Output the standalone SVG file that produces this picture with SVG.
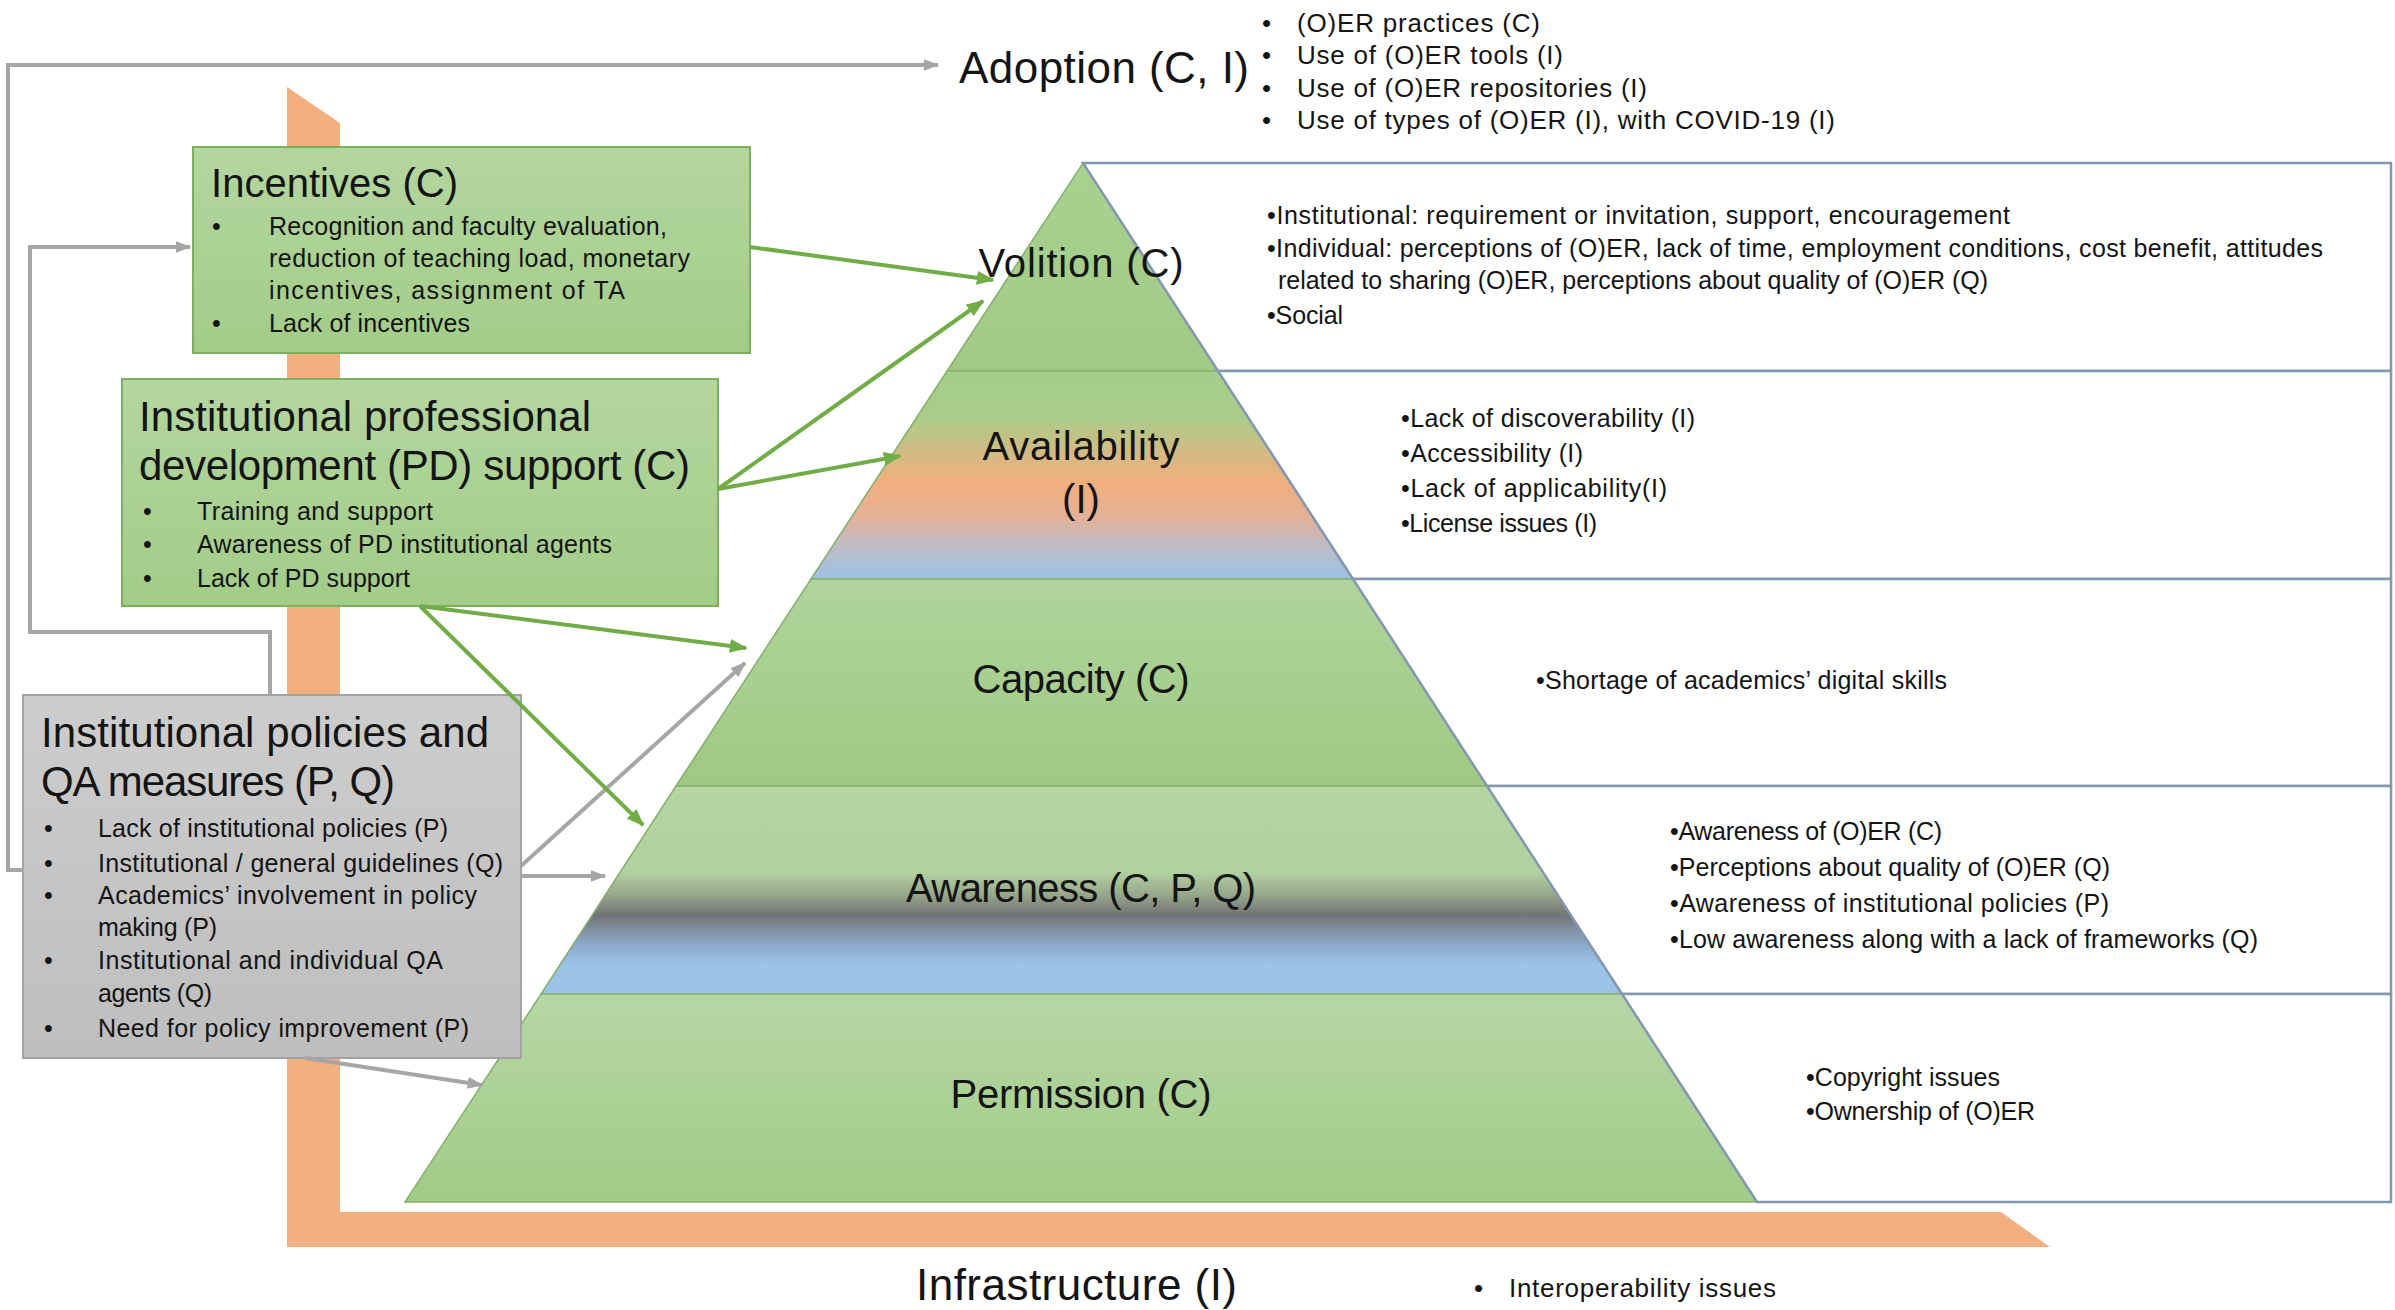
<svg xmlns="http://www.w3.org/2000/svg" width="2395" height="1310" viewBox="0 0 2395 1310">
<style>
text { font-family: "Liberation Sans", Arial, sans-serif; fill: #141414; }
.b { font-size: 25px; }
.h { font-size: 42px; }
.ht { font-size: 40px; }
.p { font-size: 40px; text-anchor: middle; }
.big { font-size: 44px; }
.ab { font-size: 26px; }
.layer { stroke: #86AE6E; stroke-width: 1.5; }
.rbox { fill: #FFFFFF; stroke: #8497B0; stroke-width: 2.5; }
.gbox { fill: url(#gBox); stroke: #7CB05E; stroke-width: 2; }
.gray { fill: none; stroke: #A6A6A6; stroke-width: 4; }
.green { fill: none; stroke: #70AD47; stroke-width: 4; }
</style>
<defs>
<linearGradient id="gBox" x1="0" y1="0" x2="0" y2="1">
<stop offset="0" stop-color="#B3D69F"/><stop offset="1" stop-color="#A3CC88"/>
</linearGradient>
<linearGradient id="gQA" x1="0" y1="0" x2="0" y2="1">
<stop offset="0" stop-color="#CDCDCD"/><stop offset="1" stop-color="#BEBEBE"/>
</linearGradient>
<linearGradient id="gVol" x1="0" y1="0" x2="0" y2="1">
<stop offset="0" stop-color="#A9D18F"/><stop offset="1" stop-color="#A0CB85"/>
</linearGradient>
<linearGradient id="gAva" x1="0" y1="0" x2="0" y2="1">
<stop offset="0" stop-color="#A5CE8A"/><stop offset="0.22" stop-color="#A8CD89"/>
<stop offset="0.4" stop-color="#D6BA83"/><stop offset="0.55" stop-color="#F2AE7E"/>
<stop offset="0.7" stop-color="#E3B197"/><stop offset="0.86" stop-color="#BABDCB"/>
<stop offset="1" stop-color="#9EC2E5"/>
</linearGradient>
<linearGradient id="gCap" x1="0" y1="0" x2="0" y2="1">
<stop offset="0" stop-color="#B0D49C"/><stop offset="1" stop-color="#9ECA82"/>
</linearGradient>
<linearGradient id="gAwa" x1="0" y1="0" x2="0" y2="1">
<stop offset="0" stop-color="#B5D6A3"/><stop offset="0.42" stop-color="#B0D09E"/>
<stop offset="0.52" stop-color="#98A88C"/><stop offset="0.62" stop-color="#727479"/>
<stop offset="0.76" stop-color="#8CA8C8"/><stop offset="0.86" stop-color="#9DC3E6"/>
<stop offset="1" stop-color="#9DC3E6"/>
</linearGradient>
<linearGradient id="gPer" x1="0" y1="0" x2="0" y2="1">
<stop offset="0" stop-color="#B6D7A5"/><stop offset="1" stop-color="#A1CB86"/>
</linearGradient>
<marker id="ag" viewBox="0 0 10 10" refX="9" refY="5" markerWidth="18" markerHeight="14" markerUnits="userSpaceOnUse" orient="auto" preserveAspectRatio="none">
<path d="M0,0 L10,5 L0,10 z" fill="#70AD47"/>
</marker>
<marker id="ay" viewBox="0 0 10 10" refX="9" refY="5" markerWidth="16" markerHeight="12" markerUnits="userSpaceOnUse" orient="auto" preserveAspectRatio="none">
<path d="M0,0 L10,5 L0,10 z" fill="#A6A6A6"/>
</marker>
</defs>

<rect x="0" y="0" width="2395" height="1310" fill="#FFFFFF"/>

<g id="infrastructure">
<polygon points="287,87 340,123 340,1212 2001,1212 2050,1247 287,1247" fill="#F2AF80"/>
<text class="big" x="916" y="1300" textLength="321">Infrastructure (I)</text>
<text class="ab" x="1474" y="1297">•</text>
<text class="ab" x="1509" y="1297" textLength="267">Interoperability issues</text>
</g>

<g id="adoption">
<text class="big" x="959" y="83" textLength="290">Adoption (C, I)</text>
<text class="ab" x="1262" y="32">•</text>
<text class="ab" x="1262" y="64">•</text>
<text class="ab" x="1262" y="97">•</text>
<text class="ab" x="1262" y="129">•</text>
<text class="ab" x="1297" y="32" textLength="243">(O)ER practices (C)</text>
<text class="ab" x="1297" y="64" textLength="266">Use of (O)ER tools (I)</text>
<text class="ab" x="1297" y="97" textLength="350">Use of (O)ER repositories (I)</text>
<text class="ab" x="1297" y="129" textLength="538">Use of types of (O)ER (I), with COVID-19 (I)</text>
</g>

<g id="volition">
<polygon class="layer" points="1083,163 1218,371 947,371" fill="url(#gVol)"/>
<polygon class="rbox" points="1083,163 2391,163 2391,371 1218,371"/>
<text class="p" x="1081" y="277" textLength="205">Volition (C)</text>
<text class="b" x="1267" y="224" textLength="743">•Institutional: requirement or invitation, support, encouragement</text>
<text class="b" x="1267" y="257" textLength="1056">•Individual: perceptions of (O)ER, lack of time, employment conditions, cost benefit, attitudes</text>
<text class="b" x="1278" y="289" textLength="710">related to sharing (O)ER, perceptions about quality of (O)ER (Q)</text>
<text class="b" x="1267" y="324" textLength="76">•Social</text>
</g>

<g id="availability">
<polygon class="layer" points="947,371 1218,371 1353,579 811,579" fill="url(#gAva)"/>
<polygon class="rbox" points="1218,371 2391,371 2391,579 1353,579"/>
<text class="p" x="1081" y="460" textLength="197">Availability</text>
<text class="p" x="1081" y="513">(I)</text>
<text class="b" x="1401" y="427" textLength="294">•Lack of discoverability (I)</text>
<text class="b" x="1401" y="462" textLength="182">•Accessibility (I)</text>
<text class="b" x="1401" y="497" textLength="266">•Lack of applicability(I)</text>
<text class="b" x="1401" y="532" textLength="196">•License issues (I)</text>
</g>

<g id="capacity">
<polygon class="layer" points="811,579 1353,579 1487,786 676,786" fill="url(#gCap)"/>
<polygon class="rbox" points="1353,579 2391,579 2391,786 1487,786"/>
<text class="p" x="1081" y="693" textLength="217">Capacity (C)</text>
<text class="b" x="1536" y="689" textLength="411">•Shortage of academics’ digital skills</text>
</g>

<g id="awareness">
<polygon class="layer" points="676,786 1487,786 1622,994 541,994" fill="url(#gAwa)"/>
<polygon class="rbox" points="1487,786 2391,786 2391,994 1622,994"/>
<text class="p" x="1081" y="902" textLength="350">Awareness (C, P, Q)</text>
<text class="b" x="1670" y="840" textLength="272">•Awareness of (O)ER (C)</text>
<text class="b" x="1670" y="876" textLength="440">•Perceptions about quality of (O)ER (Q)</text>
<text class="b" x="1670" y="912" textLength="439">•Awareness of institutional policies (P)</text>
<text class="b" x="1670" y="948" textLength="588">•Low awareness along with a lack of frameworks (Q)</text>
</g>

<g id="permission">
<polygon class="layer" points="541,994 1622,994 1757,1202 405,1202" fill="url(#gPer)"/>
<polygon class="rbox" points="1622,994 2391,994 2391,1202 1757,1202"/>
<text class="p" x="1081" y="1108" textLength="261">Permission (C)</text>
<text class="b" x="1806" y="1086" textLength="194">•Copyright issues</text>
<text class="b" x="1806" y="1120" textLength="229">•Ownership of (O)ER</text>
</g>

<g id="incentives">
<rect class="gbox" x="193" y="147" width="557" height="206"/>
<text class="ht" x="211" y="197" textLength="247">Incentives (C)</text>
<text class="b" x="212" y="235">•</text>
<text class="b" x="212" y="332">•</text>
<text class="b" x="269" y="235" textLength="398">Recognition and faculty evaluation,</text>
<text class="b" x="269" y="267" textLength="421">reduction of teaching load, monetary</text>
<text class="b" x="269" y="299" textLength="356">incentives, assignment of TA</text>
<text class="b" x="269" y="332" textLength="201">Lack of incentives</text>
</g>

<g id="pd-support">
<rect class="gbox" x="122" y="379" width="596" height="227"/>
<text class="h" x="139" y="431" textLength="452">Institutional professional</text>
<text class="h" x="139" y="480" textLength="551">development (PD) support (C)</text>
<text class="b" x="143" y="520">•</text>
<text class="b" x="143" y="553">•</text>
<text class="b" x="143" y="587">•</text>
<text class="b" x="197" y="520" textLength="236">Training and support</text>
<text class="b" x="197" y="553" textLength="415">Awareness of PD institutional agents</text>
<text class="b" x="197" y="587" textLength="213">Lack of PD support</text>
</g>

<g id="qa-measures">
<rect x="23" y="695" width="498" height="363" fill="url(#gQA)" stroke="#A3A3A3" stroke-width="2"/>
<text class="h" x="41" y="747" textLength="448">Institutional policies and</text>
<text class="h" x="41" y="796" textLength="354">QA measures (P, Q)</text>
<text class="b" x="44" y="837">•</text>
<text class="b" x="44" y="872">•</text>
<text class="b" x="44" y="904">•</text>
<text class="b" x="44" y="969">•</text>
<text class="b" x="44" y="1037">•</text>
<text class="b" x="98" y="837" textLength="350">Lack of institutional policies (P)</text>
<text class="b" x="98" y="872" textLength="405">Institutional / general guidelines (Q)</text>
<text class="b" x="98" y="904" textLength="379">Academics’ involvement in policy</text>
<text class="b" x="98" y="936" textLength="119">making (P)</text>
<text class="b" x="98" y="969" textLength="345">Institutional and individual QA</text>
<text class="b" x="98" y="1002" textLength="114">agents (Q)</text>
<text class="b" x="98" y="1037" textLength="371">Need for policy improvement (P)</text>
</g>

<g id="connectors">
<polyline class="gray" points="23,870 8,870 8,65 938,65" marker-end="url(#ay)"/>
<polyline class="gray" points="270,695 270,632 30,632 30,247 190,247" marker-end="url(#ay)"/>
<line class="gray" x1="521" y1="866" x2="745" y2="663" marker-end="url(#ay)"/>
<line class="gray" x1="521" y1="876" x2="605" y2="876" marker-end="url(#ay)"/>
<line class="gray" x1="305" y1="1058" x2="482" y2="1085" marker-end="url(#ay)"/>
<line class="green" x1="750" y1="247" x2="993" y2="280" marker-end="url(#ag)"/>
<line class="green" x1="718" y1="489" x2="983" y2="301" marker-end="url(#ag)"/>
<line class="green" x1="718" y1="489" x2="900" y2="456" marker-end="url(#ag)"/>
<line class="green" x1="420" y1="606" x2="746" y2="648" marker-end="url(#ag)"/>
<line class="green" x1="420" y1="606" x2="643" y2="825" marker-end="url(#ag)"/>
</g>
</svg>
